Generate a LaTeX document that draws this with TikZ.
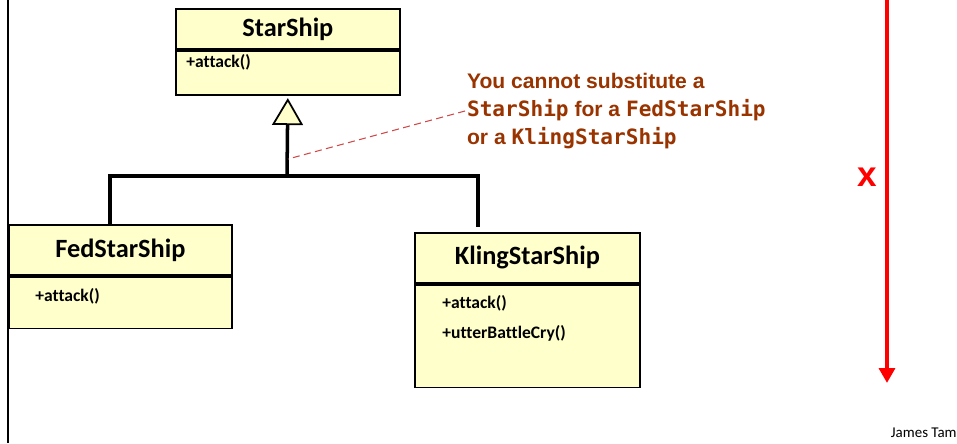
\documentclass[tikz,border=0pt]{standalone}
\usepackage{fontspec}
\setmainfont{Carlito}[Ligatures = NoCommon]
\newfontfamily\notefont{Liberation Sans}
\newfontfamily\codefont{DejaVu Sans Mono}
\usetikzlibrary{arrows.meta}
\definecolor{classfill}{HTML}{FFFFCC}
\definecolor{notecol}{HTML}{993300}
\definecolor{dashcol}{HTML}{D04848}
\begin{document}
\begin{tikzpicture}[
  x = 0.02cm, y = -0.02cm,
  head/.style   = {rectangle, draw, line width = 1pt, fill = classfill, anchor = north west, inner sep = 0pt, font = \fontsize{15}{18}\selectfont\bfseries},
  body/.style   = {rectangle, draw, line width = 1pt, fill = classfill, anchor = north west},
  method/.style = {anchor = west, inner sep = 0pt, font = \fontsize{10}{12}\selectfont\bfseries},
  gen/.style    = {line width = 2pt},
  note/.style   = {anchor = west, align = left, inner sep = 1pt, text = notecol, font = \notefont\fontsize{12}{16}\selectfont\bfseries}
]
  \useasboundingbox (0, 0) rectangle (957, 443);
  \draw[line width = 1pt] (8, 0) -- (8, 443);

  \node[head, minimum width = 4.48cm, minimum height = 0.8cm]  (starhead)  at (175, 8)   {StarShip};
  \node[body, minimum width = 4.48cm, minimum height = 0.88cm] (starbody)  at (starhead.south west) {};
  \node[head, minimum width = 4.46cm, minimum height = 1cm]    (fedhead)   at (8, 224)   {FedStarShip};
  \node[body, minimum width = 4.46cm, minimum height = 1.04cm] (fedbody)   at (fedhead.south west) {};
  \node[head, minimum width = 4.5cm,  minimum height = 1cm]    (klinghead) at (414, 232) {KlingStarShip};
  \node[body, minimum width = 4.5cm,  minimum height = 2.06cm] (klingbody) at (klinghead.south west) {};

  \node[method] (staratk)  at (186, 62)  {+attack()};
  \node[method] (fedatk)   at (35, 296)  {+attack()};
  \node[method] (klingatk) at (442, 303) {+attack()};
  \node[method] (klingcry) at (442, 333) {+utterBattleCry()};

  \coordinate (join)     at (287, 176);
  \coordinate (fedtop)   at (110, 224);
  \coordinate (klingtop) at (478, 227);
  \draw[gen, shorten > = 1.5pt, -{Triangle[width = 17.6pt, length = 15.3pt, fill = classfill, line width = 1pt]}] (join) -- (starbody.south);
  \draw[gen] (fedtop) |- (join) -| (klingtop);

  \node[note] (note) at (465, 111) {You cannot substitute a\\{\codefont StarShip} for a {\codefont FedStarShip}\\or a {\codefont KlingStarShip}};
  \coordinate (hit) at (288, 159);
  \draw[dashcol, line width = 0.6pt, dash pattern = on 4pt off 2.5pt] (note.west) -- (hit);

  \coordinate (arrtop) at (887, 0);
  \coordinate (arrend) at (887, 383);
  \draw[red, line width = 2.3pt, -{Triangle[width = 9pt, length = 8.5pt]}] (arrtop) -- (arrend);
  \node[text = red, font = \notefont\fontsize{20}{24}\selectfont\bfseries] (cross) at (867, 177) {x};

  \node[anchor = east, inner sep = 0pt, font = \fontsize{8.5}{10}\selectfont] (author) at (957, 433) {James Tam};
\end{tikzpicture}
\end{document}
